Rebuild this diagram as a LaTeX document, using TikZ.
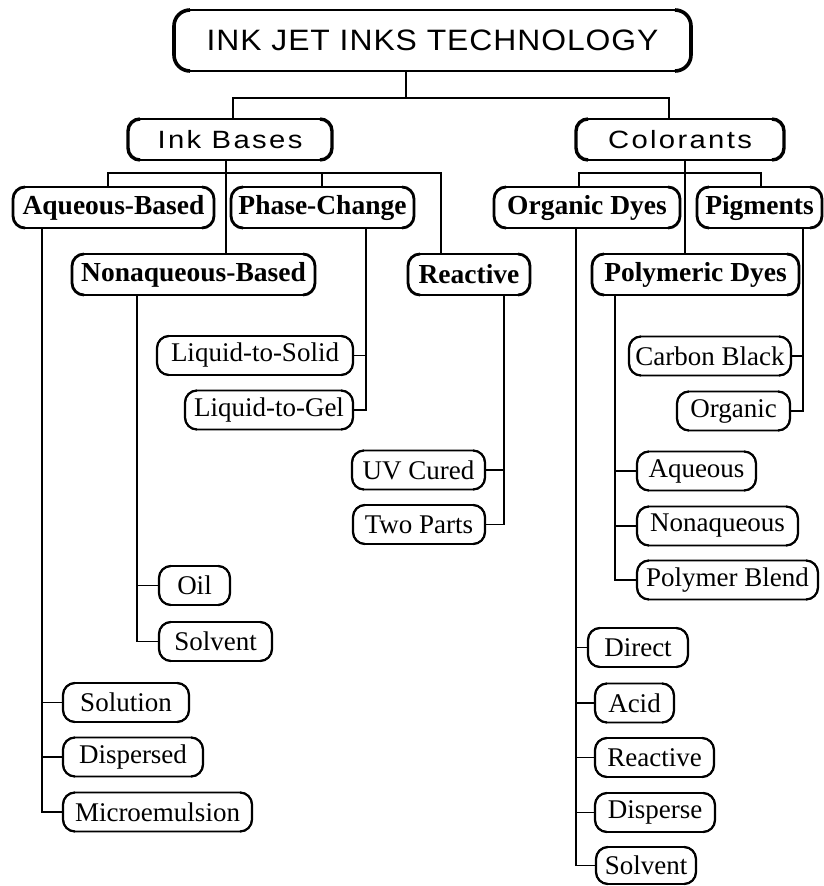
\documentclass[tikz,border=0pt]{standalone}
\usepackage{graphicx}
\usepackage{fontspec}
\setmainfont{Liberation Serif}
\newfontfamily\titlefont[LetterSpace=3]{Liberation Sans}
\newfontfamily\midfont[LetterSpace=8]{Liberation Sans}
\newcommand{\titletext}[1]{\scalebox{1.08}[1]{\titlefont #1}}
\newcommand{\midtext}[1]{\scalebox{1.17}[1]{\midfont #1}}
\begin{document}
\begin{tikzpicture}[x=1pt,y=1pt,
  box/.style={draw, line width=1.6pt, rounded corners=12pt, inner sep=0pt, outer sep=0pt,
    minimum height=41pt, font=\fontsize{27}{27}\selectfont},
  bbox/.style={box, font=\fontsize{27.5}{27.5}\selectfont\bfseries},
  sbox/.style={box, font=\fontsize{25}{25}\selectfont},
  leafbox/.style={box, minimum height=39pt},
  conn/.style={line width=1.4pt}]
\fill[white] (0,0) rectangle (824,-886);
\useasboundingbox (0,0) rectangle (824,-886);

% top
\node[box, rounded corners=16pt, minimum width=517pt, minimum height=61pt,
  font=\fontsize{29.5}{29.5}\selectfont] (title) at (432.5,-40.5) {\titletext{INK JET INKS TECHNOLOGY}};
\node[sbox, minimum width=204pt] (inkbases) at (230,-139.5) {\midtext{Ink Bases}};
\node[sbox, minimum width=208pt] (colorants) at (680,-139.5) {\midtext{Colorants}};

% second level
\node[bbox, minimum width=201pt] (aqb) at (113.5,-207.5) {Aqueous-Based};
\node[bbox, minimum width=183pt] (phase) at (322.5,-207.5) {Phase-Change};
\node[bbox, minimum width=243pt] (nonaq) at (193.5,-274.5) {Nonaqueous-Based};
\node[bbox, minimum width=122pt] (reactive) at (469,-274.5) {Reactive};
\node[bbox, minimum width=186pt] (orgdyes) at (587,-207.5) {Organic Dyes};
\node[bbox, minimum width=125pt] (pigments) at (759.5,-207.5) {Pigments};
\node[bbox, minimum width=207pt] (polydyes) at (695.5,-274.5) {Polymeric Dyes};

% leaves
\node[leafbox, minimum width=196pt] (lts) at (255,-355.5) {Liquid-to-Solid};
\node[leafbox, minimum width=168pt] (ltg) at (269,-410) {Liquid-to-Gel};
\node[leafbox, minimum width=133pt] (uv) at (418.5,-470) {UV Cured};
\node[leafbox, minimum width=132pt] (two) at (419,-524.5) {Two Parts};
\node[leafbox, minimum width=162pt] (carbon) at (710,-356) {Carbon Black};
\node[leafbox, minimum width=113pt] (organic) at (733.5,-411) {Organic};
\node[leafbox, minimum width=119pt] (aqueousB) at (696.5,-471) {Aqueous};
\node[leafbox, minimum width=161pt] (nonaqB) at (717.5,-526) {Nonaqueous};
\node[leafbox, minimum width=181pt] (polyblend) at (727.5,-580) {Polymer Blend};
\node[leafbox, minimum width=71pt] (oil) at (194.5,-585.5) {Oil};
\node[leafbox, minimum width=113pt] (solventA) at (215.5,-641.5) {Solvent};
\node[leafbox, minimum width=126pt] (solution) at (126,-702.5) {Solution};
\node[leafbox, minimum width=140pt] (dispersed) at (133,-757) {Dispersed};
\node[leafbox, minimum width=189pt] (micro) at (157.5,-812) {Microemulsion};
\node[leafbox, minimum width=100pt] (direct) at (638,-647.5) {Direct};
\node[leafbox, minimum width=79pt] (acid) at (634.5,-703) {Acid};
\node[leafbox, minimum width=119pt] (reactiveB) at (654.5,-757.5) {Reactive};
\node[leafbox, minimum width=120pt] (disperse) at (655,-812.5) {Disperse};
\node[leafbox, minimum width=100pt, minimum height=37pt] (solventB) at (646,-865.5) {Solvent};

% thick side strokes
\foreach \n/\w/\r in {title/3.6/16, inkbases/3.4/12, colorants/3.4/12, aqb/2.8/12, phase/2.8/12,
  nonaq/2.8/12, reactive/2.8/12, orgdyes/2.8/12, pigments/2.8/12, polydyes/2.8/12,
  lts/2.2/12, ltg/2.2/12, uv/2.2/12, two/2.2/12, carbon/2.2/12, organic/2.2/12, aqueousB/2.2/12,
  nonaqB/2.2/12, polyblend/2.2/12, oil/2.2/12, solventA/2.2/12, solution/2.2/12, dispersed/2.2/12,
  micro/2.2/12, direct/2.2/12, acid/2.2/12, reactiveB/2.2/12, disperse/2.2/12, solventB/2.2/12}{
  \draw[line width=\w pt] ([xshift=\r pt]\n.north west) arc[start angle=90,end angle=180,radius=\r pt]
    -- ([yshift=\r pt]\n.south west) arc[start angle=180,end angle=270,radius=\r pt];
  \draw[line width=\w pt] ([xshift=-\r pt]\n.north east) arc[start angle=90,end angle=0,radius=\r pt]
    -- ([yshift=\r pt]\n.south east) arc[start angle=0,end angle=-90,radius=\r pt];
}

% title connectors
\coordinate (t0) at (406,-98);
\coordinate (tL) at (233,-98);
\coordinate (tR) at (669,-98);
\draw[conn] (title.south -| t0) -- (t0);
\draw[conn] (inkbases.north -| tL) -- (tL) -- (tR) -- (colorants.north -| tR);

% ink bases
\coordinate (ib) at (226,-173);
\coordinate (ibL) at (108,-173);
\coordinate (ibP) at (322,-173);
\coordinate (ibR) at (441,-173);
\draw[conn] (inkbases.south -| ib) -- (nonaq.north -| ib);
\draw[conn] (aqb.north -| ibL) -- (ibL) -- (ibR) -- (reactive.north -| ibR);
\draw[conn] (ibP) -- (phase.north -| ibP);

% colorants
\coordinate (cb) at (685,-173);
\coordinate (cbL) at (579,-173);
\coordinate (cbR) at (761,-173);
\draw[conn] (colorants.south -| cb) -- (polydyes.north -| cb);
\draw[conn] (orgdyes.north -| cbL) -- (cbL) -- (cbR) -- (pigments.north -| cbR);

% aqueous-based
\coordinate (xa) at (42,0);
\draw[conn] (aqb.south -| xa) |- (micro.west);
\draw[conn] (solution.west) -- (solution.west -| xa);
\draw[conn] (dispersed.west) -- (dispersed.west -| xa);

% nonaqueous-based
\coordinate (xn) at (137,0);
\draw[conn] (nonaq.south -| xn) |- (solventA.west);
\draw[conn] (oil.west) -- (oil.west -| xn);

% phase-change
\coordinate (xp) at (366,0);
\draw[conn] (phase.south -| xp) |- (ltg.east);
\draw[conn] (lts.east) -- (lts.east -| xp);

% reactive
\coordinate (xr) at (504,0);
\draw[conn] (reactive.south -| xr) |- (two.east);
\draw[conn] (uv.east) -- (uv.east -| xr);

% organic dyes
\coordinate (xo) at (576,0);
\draw[conn] (orgdyes.south -| xo) |- (solventB.west);
\draw[conn] (direct.west) -- (direct.west -| xo);
\draw[conn] (acid.west) -- (acid.west -| xo);
\draw[conn] (reactiveB.west) -- (reactiveB.west -| xo);
\draw[conn] (disperse.west) -- (disperse.west -| xo);

% polymeric dyes
\coordinate (xq) at (615,0);
\draw[conn] (polydyes.south -| xq) |- (polyblend.west);
\draw[conn] (aqueousB.west) -- (aqueousB.west -| xq);
\draw[conn] (nonaqB.west) -- (nonaqB.west -| xq);

% pigments
\coordinate (xg) at (803,0);
\draw[conn] (pigments.south -| xg) |- (organic.east);
\draw[conn] (carbon.east) -- (carbon.east -| xg);
\end{tikzpicture}
\end{document}
